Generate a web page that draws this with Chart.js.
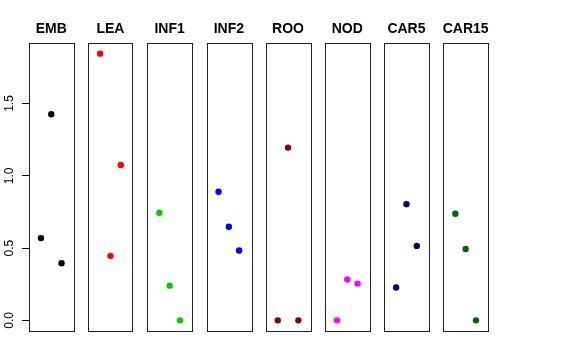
<!DOCTYPE html>
<html>
<head>
<meta charset="utf-8">
<script src="https://cdn.jsdelivr.net/npm/chart.js@4/dist/chart.umd.min.js"></script>
<style>
  body { margin: 0; background: #fff; }
  #wrap { position: relative; width: 576px; height: 360px; }
  #wrap canvas { position: absolute; left: 0; top: 0; }
</style>
</head>
<body>
<div id="wrap"></div>
<script>
// dane z wykresu
const panels = ['EMB', 'LEA', 'INF1', 'INF2', 'ROO', 'NOD', 'CAR5', 'CAR15'];
const colors = ['#000000', '#FF0000', '#00CD00', '#0000FF', '#8B0000', '#FF00FF', '#000080', '#006400'];
const xPositions = [1, 2, 3];
const values = [
    [0.569, 1.426, 0.395],
    [1.845, 0.446, 1.075],
    [0.744, 0.240, 0.000],
    [0.890, 0.647, 0.483],
    [0.000, 1.195, 0.000],
    [0.000, 0.282, 0.254],
    [0.227, 0.804, 0.515],
    [0.737, 0.494, 0.000]
];
const yTicks = [0, 0.5, 1.0, 1.5];

// zakres osi jak w R (rozszerzenie o 4%)
const yMin = 0 - 0.04 * 1.845;
const yMax = 1.845 + 0.04 * 1.845;

const W = 576, H = 360;
const firstLeft = 29, pitch = 59.2, boxW = 44.5;

// ramka wokół panelu i tytuł nad nim
const boxPlugin = {
    id: 'box',
    afterDraw(chart) {
        const a = chart.chartArea;
        const ctx = chart.ctx;
        ctx.save();
        ctx.strokeStyle = '#222';
        ctx.lineWidth = 1;
        ctx.strokeRect(Math.round(a.left) + 0.5, Math.round(a.top) + 0.5,
            Math.round(a.right - a.left), Math.round(a.bottom - a.top));
        ctx.fillStyle = '#000';
        ctx.font = 'bold 14px "Liberation Sans", Arial, sans-serif';
        ctx.textAlign = 'center';
        ctx.textBaseline = 'middle';
        ctx.fillText(chart.options.plugins.box.title, (a.left + a.right) / 2, a.top - 14);
        ctx.restore();
    }
};

const wrap = document.getElementById('wrap');

panels.forEach((name, i) => {
    const canvas = document.createElement('canvas');
    canvas.width = W;
    canvas.height = H;
    wrap.appendChild(canvas);

    const left = firstLeft + i * pitch;
    const first = i === 0;

    new Chart(canvas, {
        type: 'scatter',
        data: {
            datasets: [{
                data: xPositions.map((x, j) => ({ x: x, y: values[i][j] })),
                backgroundColor: colors[i],
                borderWidth: 0,
                pointRadius: 3.2,
                clip: false
            }]
        },
        plugins: [boxPlugin],
        options: {
            responsive: false,
            animation: false,
            devicePixelRatio: 1,
            layout: {
                padding: {
                    left: first ? 0 : left,
                    right: W - left - boxW,
                    top: 43,
                    bottom: 29
                }
            },
            scales: {
                x: {
                    type: 'linear',
                    display: false,
                    min: -0.16,
                    max: 4.16
                },
                y: {
                    type: 'linear',
                    display: first,
                    min: yMin,
                    max: yMax,
                    afterBuildTicks: (scale) => {
                        scale.ticks = yTicks.map(v => ({ value: v }));
                    },
                    afterFit: (scale) => {
                        if (first) scale.width = firstLeft;
                    },
                    border: { display: false },
                    grid: {
                        drawOnChartArea: false,
                        drawTicks: true,
                        tickLength: 7,
                        color: '#000'
                    },
                    ticks: {
                        color: '#000',
                        padding: 4,
                        minRotation: 90,
                        maxRotation: 90,
                        crossAlign: 'center',
                        font: { family: 'Liberation Sans, Arial, sans-serif', size: 12 },
                        callback: (val) => Number(val).toFixed(1)
                    }
                }
            },
            plugins: {
                legend: { display: false },
                tooltip: { enabled: false },
                title: { display: false },
                box: { title: name }
            }
        }
    });
});
</script>
</body>
</html>
